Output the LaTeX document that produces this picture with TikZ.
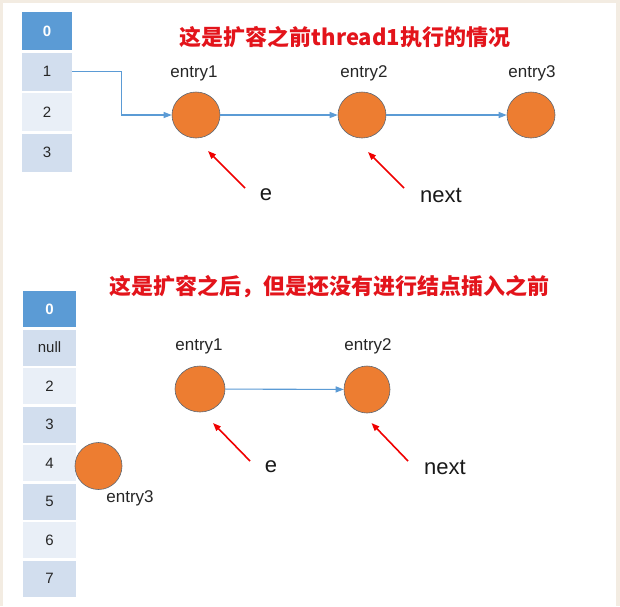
\documentclass[tikz,border=0pt]{standalone}
\usepackage{fontspec}
\setmainfont{Liberation Sans}
\newfontfamily\cjk{Noto Sans CJK SC}
\definecolor{pageframe}{HTML}{F3ECE2}
\definecolor{slotdark}{HTML}{5B9BD5}
\definecolor{slotmid}{HTML}{D2DEEE}
\definecolor{slotpale}{HTML}{E9EFF7}
\definecolor{entryfill}{HTML}{ED7D31}
\definecolor{entryline}{HTML}{5E6773}
\definecolor{linkblue}{HTML}{5B9BD5}
\definecolor{titlered}{HTML}{E3141B}
\definecolor{ptrred}{HTML}{F00000}
\usetikzlibrary{arrows.meta, positioning, shapes}

\begin{document}
\begin{tikzpicture}[x=1pt, y=-1pt,
    slot/.style={inner sep=0pt, text=black!85, font=\fontsize{15}{15}\selectfont},
    entry/.style={ellipse, fill=entryfill, draw=entryline, line width=0.6pt,
      inner sep=0pt, minimum width=48pt, minimum height=46pt},
    link/.style={draw=linkblue, line width=1.1pt, -{Triangle[length=8pt, width=6pt]}},
    ptr/.style={draw=ptrred, line width=1.6pt, -{Triangle[length=8pt, width=6pt]}},
    title/.style={font=\cjk\bfseries\fontsize{22}{22}\selectfont, text=titlered},
    tag/.style={font=\fontsize{17}{17}\selectfont, text=black!85},
    pointer/.style={font=\fontsize{22}{22}\selectfont, text=black!90}]
  \useasboundingbox (0,0) rectangle (620,606);
  \fill[pageframe] (0,0) rectangle (620,606);
  \fill[white] (3,3) rectangle (616,606);

  % before resize: table with 4 slots
  \node[slot, fill=slotdark, minimum width=50pt, minimum height=38pt,
    text=white, font=\bfseries\fontsize{15}{15}\selectfont] (top0) at (47,31) {0};
  \foreach \i/\y/\c in {1/71.5/slotmid, 2/112/slotpale, 3/152.5/slotmid} {
    \node[slot, fill=\c, minimum width=50pt, minimum height=38pt] (top\i) at (47,\y) {\i};
  }
  \node[title] (title1) at (345,37) {这是扩容之前thread1执行的情况};

  \node[entry] (a1) at (196,115) {};
  \node[entry] (a2) at (362,115) {};
  \node[entry] (a3) at (531,115) {};
  \node[tag] (lab1) at (194,73) {entry1};
  \node[tag] (lab2) at (364,73) {entry2};
  \node[tag] (lab3) at (532,73) {entry3};

  \draw[link] (top1.east) -- ++(49,0) |- (a1.west);
  \draw[link] (a1) -- (a2);
  \draw[link] (a2) -- (a3);

  \node[pointer] (e1) at (266,195) {e};
  \node[pointer] (next1) at (441,195) {next};
  \coordinate (e1tail) at (245,188);
  \coordinate (e1head) at (208,151);
  \coordinate (next1tail) at (404,188);
  \coordinate (next1head) at (368,152);
  \draw[ptr] (e1tail) -- (e1head);
  \draw[ptr] (next1tail) -- (next1head);

  % after resize: table with 8 slots
  \node[slot, fill=slotdark, minimum width=53pt, minimum height=36pt,
    text=white, font=\bfseries\fontsize{15}{15}\selectfont] (bot0) at (49.5,309) {0};
  \foreach \i/\t/\y/\c in {1/null/347.5/slotmid, 2/2/386/slotpale, 3/3/424.5/slotmid,
      4/4/463/slotpale, 5/5/501.5/slotmid, 6/6/540/slotpale, 7/7/578.5/slotmid} {
    \node[slot, fill=\c, minimum width=53pt, minimum height=36pt] (bot\i) at (49.5,\y) {\t};
  }
  \node[title] (title2) at (329,287) {这是扩容之后，但是还没有进行结点插入之前};

  \node[entry, minimum width=50pt] (b1) at (200,389) {};
  \node[entry, minimum width=46pt, minimum height=47pt] (b2) at (367,389.5) {};
  \node[entry, minimum width=47pt, minimum height=47pt] (b3) at (98.5,466) {};
  \node[tag] (lab4) at (199,346) {entry1};
  \node[tag] (lab5) at (368,346) {entry2};
  \node[tag] (lab6) at (130,498) {entry3};

  \draw[link] (b1) -- (b2);

  \node[pointer] (e2) at (271,467) {e};
  \node[pointer] (next2) at (445,467) {next};
  \coordinate (e2tail) at (250,461);
  \coordinate (e2head) at (213,423);
  \coordinate (next2tail) at (408,461);
  \coordinate (next2head) at (371.5,423);
  \draw[ptr] (e2tail) -- (e2head);
  \draw[ptr] (next2tail) -- (next2head);
\end{tikzpicture}
\end{document}
